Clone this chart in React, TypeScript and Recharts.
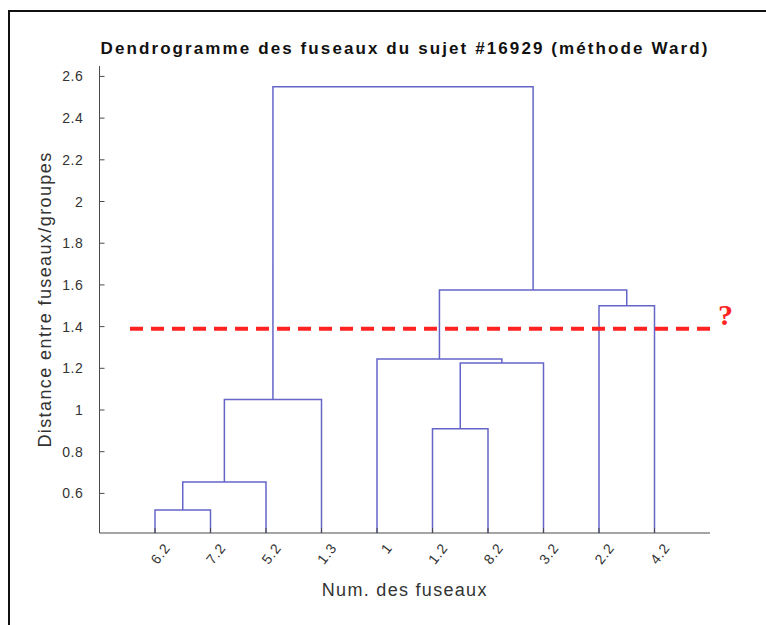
import React from 'react';
import {
  ComposedChart,
  Line,
  XAxis,
  YAxis,
  ReferenceLine,
} from 'recharts';

// leaves in dendrogram order (left to right)
const leafLabels = ['6.2', '7.2', '5.2', '1.3', '1', '1.2', '8.2', '3.2', '2.2', '4.2'];

// linkage : node ids 0..9 are leaves, 10+ are the merged clusters
const mergeA = [0, 10, 11, 5, 13, 4, 8, 15, 12];
const mergeB = [1, 2, 3, 6, 7, 14, 9, 16, 17];
const mergeH = [0.52, 0.655, 1.05, 0.91, 1.225, 1.245, 1.5, 1.575, 2.55];

const yTicks = [0.6, 0.8, 1, 1.2, 1.4, 1.6, 1.8, 2, 2.2, 2.4, 2.6];
const yTickLabels = ['0.6', '0.8', '1', '1.2', '1.4', '1.6', '1.8', '2', '2.2', '2.4', '2.6'];

const cutHeight = 1.39;
const cutStart = 0.55;

const Y_MIN = 0.41;
const Y_MAX = 2.65;
const X_MAX = 11;

const LINK = '#6565c8';
const AXIS = '#4a4a4a';
const FONT = '"Liberation Sans", Arial, sans-serif';

// build the link segments (in data units) from the linkage
const nodeX: number[] = leafLabels.map((_, i) => i + 1);
const nodeY: number[] = leafLabels.map(() => Y_MIN);
const links = mergeH.map((h, k) => {
  const a = mergeA[k];
  const b = mergeB[k];
  const seg = [
    { x: nodeX[a], y: nodeY[a] },
    { x: nodeX[a], y: h },
    { x: nodeX[b], y: h },
    { x: nodeX[b], y: nodeY[b] },
  ];
  nodeX.push((nodeX[a] + nodeX[b]) / 2);
  nodeY.push(h);
  return seg;
});

const YTick = (props: any) => {
  const { x, y, payload } = props;
  const i = yTicks.indexOf(payload.value);
  return (
    <g>
      <line x1={x + 16} x2={x + 21} y1={y} y2={y} stroke={AXIS} />
      <text
        x={x}
        y={y}
        dy={5}
        textAnchor="end"
        fill="#333"
        fontSize={14}
        letterSpacing={0.6}
        fontFamily={FONT}
      >
        {i >= 0 ? yTickLabels[i] : payload.value}
      </text>
    </g>
  );
};

const XTick = (props: any) => {
  const { x, y, payload } = props;
  const tx = x + 16;
  const ty = y + 5;
  return (
    <g>
      <line x1={x} x2={x} y1={y - 10} y2={y - 15} stroke={AXIS} />
      <text
        x={tx}
        y={ty}
        textAnchor="end"
        fill="#333"
        fontSize={14}
        letterSpacing={0.8}
        fontFamily={FONT}
        transform={`rotate(-52, ${tx}, ${ty})`}
      >
        {leafLabels[payload.value - 1]}
      </text>
    </g>
  );
};

export default function App() {
  return (
    <div
      style={{
        position: 'fixed',
        left: 8,
        top: 10,
        right: -4,
        bottom: -4,
        border: '2px solid #111',
        background: '#fff',
      }}
    >
      <div
        style={{
          position: 'absolute',
          left: 0,
          top: 29,
          width: 790,
          textAlign: 'center',
          fontFamily: FONT,
          fontWeight: 'bold',
          fontSize: 17,
          lineHeight: '16px',
          letterSpacing: 2.1,
          color: '#111',
        }}
      >
        Dendrogramme des fuseaux du sujet #16929 (méthode Ward)
      </div>
      <div style={{ position: 'absolute', left: 0, top: 0 }}>
        <ComposedChart
          width={760}
          height={610}
          margin={{ top: 54, right: 60, bottom: 29, left: 19.5 }}
        >
          <XAxis
            type="number"
            dataKey="x"
            domain={[0, X_MAX]}
            ticks={leafLabels.map((_, i) => i + 1)}
            allowDataOverflow
            height={60}
            tickSize={6}
            tickMargin={4}
            tickLine={false}
            axisLine={{ stroke: AXIS }}
            tick={<XTick />}
            label={{
              value: 'Num. des fuseaux',
              position: 'insideBottom',
              offset: -3,
              fill: '#333',
              fontSize: 18,
              fontFamily: FONT,
              letterSpacing: 1.3,
            }}
          />
          <YAxis
            type="number"
            domain={[Y_MIN, Y_MAX]}
            ticks={yTicks}
            allowDataOverflow
            width={70}
            tickSize={6}
            tickMargin={10}
            tickLine={false}
            axisLine={{ stroke: AXIS }}
            tick={<YTick />}
            label={{
              value: 'Distance entre fuseaux/groupes',
              angle: -90,
              position: 'insideLeft',
              offset: 15,
              style: { textAnchor: 'middle' },
              fill: '#333',
              fontSize: 18,
              fontFamily: FONT,
              letterSpacing: 1.4,
            }}
          />
          {links.map((seg, k) => (
            <Line
              key={k}
              data={seg}
              dataKey="y"
              type="linear"
              stroke={LINK}
              strokeWidth={1.5}
              dot={false}
              activeDot={false}
              isAnimationActive={false}
            />
          ))}
          <ReferenceLine
            segment={[
              { x: cutStart, y: cutHeight },
              { x: X_MAX, y: cutHeight },
            ]}
            stroke="#ff2222"
            strokeWidth={4}
            strokeDasharray="13 8"
            label={{
              value: '?',
              position: 'right',
              offset: 8,
              dy: -14,
              fill: '#ff2222',
              fontSize: 30,
              fontWeight: 'bold',
              fontFamily: '"Liberation Serif", "DejaVu Serif", serif',
            }}
          />
        </ComposedChart>
      </div>
    </div>
  );
}
